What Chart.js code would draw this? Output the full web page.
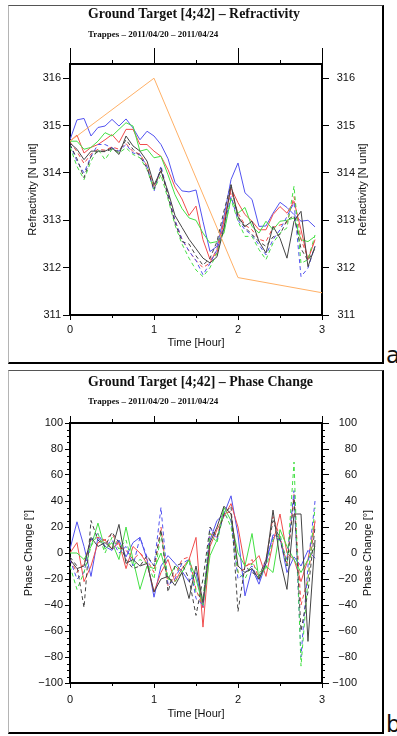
<!DOCTYPE html>
<html>
<head>
<meta charset="utf-8">
<script src="https://cdn.jsdelivr.net/npm/chart.js@4/dist/chart.umd.min.js"></script>
<style>
  body { margin: 0; background: #fff; width: 397px; height: 736px; overflow: hidden; position: relative; }
  .panel { position: absolute; left: 8px; width: 373px; background: #fff;
           border-left: 1px solid #b4b4b4; border-top: 1px solid #555;
           border-right: 2px solid #000; border-bottom: 2px solid #000; }
  .panel canvas { display: block; }
  .tag { position: absolute; left: 386px; font: 23px/1 "DejaVu Sans", sans-serif; color: #111; }
</style>
</head>
<body>
<div class="panel" style="top:5px;height:356px"><canvas id="refr" width="373" height="356"></canvas></div>
<div class="tag" style="top:344px">a</div>
<div class="panel" style="top:370px;height:361px"><canvas id="phase" width="373" height="361"></canvas></div>
<div class="tag" style="top:713px">b</div>
<script>
// time axis, hours (5 min steps)
var hours = [0.000, 0.083, 0.167, 0.250, 0.333, 0.417, 0.500, 0.583, 0.667, 0.750, 0.833, 0.917,
             1.000, 1.083, 1.167, 1.250, 1.333, 1.417, 1.500, 1.583, 1.667, 1.750, 1.833, 1.917,
             2.000, 2.083, 2.167, 2.250, 2.333, 2.417, 2.500, 2.583, 2.667, 2.750, 2.833, 2.917];
var xTicks = [0, 1, 2, 3];

// refractivity [N unit]
var refBlue = [314.70, 315.12, 315.15, 314.78, 314.96, 314.99, 315.13, 314.99, 315.14, 314.95, 314.70, 314.88,
               314.78, 314.60, 314.30, 313.80, 313.62, 313.60, 313.64, 312.98, 312.34, 312.45, 313.08, 313.86,
               314.21, 313.58, 313.44, 312.87, 312.88, 313.15, 313.38, 313.27, 313.12, 312.98, 313.00, 312.86];
var refRed = [314.67, 314.80, 314.42, 314.54, 314.60, 314.70, 314.81, 314.64, 314.92, 314.92, 314.60, 314.60,
              314.46, 314.35, 314.07, 313.70, 313.45, 313.10, 313.30, 312.59, 312.17, 312.31, 312.98, 313.68,
              313.37, 313.12, 312.98, 312.80, 312.80, 313.12, 313.29, 313.15, 313.40, 312.80, 312.17, 312.59];
var refGreen = [314.67, 314.67, 314.50, 314.54, 314.67, 314.85, 314.78, 314.92, 315.06, 314.99, 314.46, 314.50,
                314.32, 314.35, 313.96, 313.54, 313.25, 313.05, 313.00, 312.73, 312.52, 312.55, 312.73, 313.47,
                313.15, 313.27, 312.87, 312.73, 312.98, 312.80, 312.98, 313.00, 313.05, 312.59, 312.55, 312.66];
var refBlack = [314.63, 314.50, 314.28, 314.46, 314.46, 314.46, 314.53, 314.39, 314.78, 314.57, 314.46, 314.25,
                313.75, 314.04, 313.61, 313.10, 312.85, 312.60, 312.40, 312.20, 312.10, 312.23, 312.84, 313.75,
                313.08, 312.87, 312.98, 312.55, 312.31, 312.87, 312.62, 312.20, 312.98, 313.19, 312.02, 312.45];
var refBlueDash = [314.60, 314.25, 314.00, 314.35, 314.60, 314.60, 314.53, 314.46, 314.60, 314.42, 314.39, 314.14,
                   313.61, 314.15, 313.54, 313.00, 312.60, 312.35, 312.15, 311.85, 312.09, 312.38, 312.87, 313.50,
                   313.00, 312.80, 312.69, 312.48, 312.27, 312.59, 312.80, 313.08, 313.37, 311.81, 311.99, 312.45];
var refGreenDash = [314.55, 314.14, 313.86, 314.25, 314.50, 314.28, 314.50, 314.42, 314.53, 314.39, 314.32, 314.07,
                    313.65, 313.96, 313.45, 312.90, 312.50, 312.20, 311.95, 311.81, 312.00, 312.31, 312.80, 313.44,
                    312.98, 312.66, 312.66, 312.38, 312.17, 312.52, 312.73, 312.84, 313.72, 312.09, 312.17, 312.69];
var refRedDash = [314.65, 314.45, 314.20, 314.40, 314.50, 314.48, 314.55, 314.50, 314.62, 314.45, 314.40, 314.15,
                  313.70, 314.05, 313.55, 313.00, 312.60, 312.35, 312.15, 312.00, 312.10, 312.40, 313.00, 313.62,
                  313.15, 312.90, 312.80, 312.60, 312.55, 312.85, 312.90, 312.95, 313.50, 312.60, 312.20, 312.60];
var refBlackDash = [314.60, 314.30, 313.90, 314.35, 314.45, 314.45, 314.50, 314.45, 314.70, 314.50, 314.35, 314.10,
                    313.65, 314.10, 313.50, 312.95, 312.55, 312.50, 312.25, 312.05, 312.20, 312.55, 313.20, 313.75,
                    313.05, 312.85, 312.70, 312.55, 312.45, 312.65, 312.70, 313.00, 313.10, 312.40, 312.15, 312.40];
var refModelHours = [0, 1, 2, 3];
var refModel = [314.67, 316.00, 311.79, 311.47];
var refTicks = [311, 312, 313, 314, 315, 316];

// phase change [deg]
var phBlue = [3, 24, 5, -18, 12, 5, 2, 10, -3, 8, 12, -5,
              -34, -10, -2, -8, -14, -22, -15, -42, 10, 25, 30, 44,
              14, -33, -12, -24, -8, 14, 12, -15, -3, -10, 2, -4];
var phRed = [0, 8, -22, -10, 8, 10, 3, 8, -12, 5, 0, -8,
             -30, -15, -5, -22, -12, -5, 12, -57, 5, 18, 28, 38,
             20, -10, -8, -2, -18, 8, 30, 0, -5, -22, -5, 24];
var phGreen = [0, 0, -5, 5, 23, 3, 8, -5, 20, -5, -28, -10,
               -12, 0, -20, -10, -15, -5, -20, -40, -2, 10, 35, 25,
               0, -10, 15, -20, -10, -15, 18, 5, -5, -15, -5, 5];
var phBlack = [-5, -12, -10, 12, 5, 8, 3, 22, -8, -5, -10, -8,
               -30, -20, -18, -25, -15, -35, -10, -38, 8, 20, 36, 30,
               -10, -15, -12, -20, -8, 33, -5, -28, 30, 30, -68, 10];
var phBlueDash = [-5, -20, -15, 10, 15, 5, 10, 0, 5, -10, 12, -3,
                  -10, 35, -25, -20, -8, -5, -35, -40, 20, 10, 30, 25,
                  -20, -15, -10, -22, -5, 12, 10, -5, 48, -80, -10, 40];
var phGreenDash = [-10, -28, -15, 5, 15, 0, 12, 3, 10, -10, -5, -8,
                   -20, 15, -20, -22, -15, -5, -30, -35, 15, 8, 32, 20,
                   -15, -20, -8, -15, -12, 10, 15, -10, 70, -87, -20, 35];
var phRedDash = [-5, -15, -8, 10, 12, 10, 15, 5, 2, -5, 0, -5,
                 -15, 20, -25, -18, -5, -3, -28, -42, 15, 12, 30, 32,
                 -15, -12, -5, -20, -5, 28, 12, -8, 45, -40, -20, 25];
var phBlackDash = [-3, -10, -42, 25, 10, 5, 16, 8, -5, -12, -10, -2,
                   -10, 18, -30, -10, -8, -20, -48, -20, 20, 12, 30, 36,
                   -45, -10, -15, -18, -5, 25, 10, -10, 42, -60, -30, 20];
var phTicks = [-100, -80, -60, -40, -20, 0, 20, 40, 60, 80, 100];

var BLUE = '#5252f0', RED = '#f04c4c', GREEN = '#44e044', BLACK = '#444444', ORANGE = '#ffb066';
var DASH = [4, 3];
var SANS = '"Liberation Sans", Arial, sans-serif';

var pairs = function (xs, ys) {
    return ys.map(function (v, i) { return {x: xs[i], y: v}; });
};

var line = function (xs, ys, color, dashed) {
    return {
        data: pairs(xs, ys),
        borderColor: color,
        borderWidth: 1,
        borderDash: dashed ? DASH : [],
        pointRadius: 0,
        tension: 0,
        fill: false
    };
};

// titles, axis titles and minor ticks
var deco = {
    id: 'deco',
    afterDraw: function (chart, args, o) {
        var ctx = chart.ctx, area = chart.chartArea;
        ctx.save();
        ctx.fillStyle = '#111';
        ctx.textAlign = 'left';
        ctx.textBaseline = 'alphabetic';
        ctx.font = 'bold 14px "Liberation Serif", serif';
        ctx.fillText(o.title, 79, o.titleY, o.titleW);
        ctx.font = 'bold 9px "Liberation Serif", serif';
        ctx.fillText(o.subtitle, 79, o.subY, 135);

        ctx.font = '11px ' + SANS;
        ctx.textAlign = 'center';
        ctx.textBaseline = 'middle';
        var midY = (area.top + area.bottom) / 2;
        [o.leftX, o.rightX].forEach(function (x) {
            ctx.save();
            ctx.translate(x, midY);
            ctx.rotate(-Math.PI / 2);
            ctx.fillText(o.yTitle, 0, 0);
            ctx.restore();
        });
        ctx.textBaseline = 'alphabetic';
        ctx.fillText(o.xTitle, (area.left + area.right) / 2, o.xTitleY);

        ctx.strokeStyle = '#000';
        ctx.lineWidth = 1;
        ctx.beginPath();
        var sx = chart.scales.x;
        [0.5, 1.5, 2.5].forEach(function (v) {
            var px = Math.round(sx.getPixelForValue(v)) + 0.5;
            ctx.moveTo(px, area.bottom);
            ctx.lineTo(px, area.bottom + 3);
            ctx.moveTo(px, area.top);
            ctx.lineTo(px, area.top - 4);
        });
        if (o.minorY) {
            var sy = chart.scales.y;
            for (var v = sy.min + o.minorY; v < sy.max; v += o.minorY) {
                if (v % 20 === 0) continue;
                var py = Math.round(sy.getPixelForValue(v)) + 0.5;
                ctx.moveTo(area.left - 3, py);
                ctx.lineTo(area.left, py);
                ctx.moveTo(area.right, py);
                ctx.lineTo(area.right + 3, py);
            }
        }
        ctx.stroke();
        ctx.restore();
    }
};

var minus = function (v) { return String(v).replace('-', '\u2212'); };

var makeScales = function (s) {
    var border = {display: true, width: 2, color: '#000'};
    var keep = function (list) {
        return function (scale) {
            scale.ticks = scale.ticks.filter(function (t) { return list.indexOf(t.value) >= 0; });
        };
    };
    return {
        x: {
            type: 'linear', position: 'bottom', min: 0, max: 3, bounds: 'data',
            border: border,
            grid: {drawOnChartArea: false, tickLength: 5, tickColor: '#000', tickWidth: 1},
            ticks: {stepSize: 1, padding: s.xPad, color: '#111', font: {family: SANS, size: 11}, maxRotation: 0},
            afterBuildTicks: keep(xTicks),
            afterFit: function (scale) { scale.height = s.bottomH; }
        },
        x2: {
            type: 'linear', position: 'top', min: 0, max: 3, bounds: 'data',
            border: border,
            grid: {drawOnChartArea: false, tickLength: s.topTick, tickColor: '#000', tickWidth: 1},
            ticks: {stepSize: 1, display: false},
            afterBuildTicks: keep(xTicks),
            afterFit: function (scale) { scale.height = s.topTick; }
        },
        y: {
            type: 'linear', position: 'left', min: s.min, max: s.max, bounds: 'data',
            border: border,
            grid: {drawOnChartArea: false, tickLength: s.yTick, tickColor: '#000', tickWidth: 1},
            ticks: {stepSize: s.step, padding: 2, color: '#111', font: {family: SANS, size: 11}, callback: minus},
            afterBuildTicks: keep(s.ticks),
            afterFit: function (scale) { scale.width = 61; }
        },
        y2: {
            type: 'linear', position: 'right', min: s.min, max: s.max, bounds: 'data',
            border: border,
            grid: {drawOnChartArea: false, tickLength: 7, tickColor: '#000', tickWidth: 1},
            ticks: {stepSize: s.step, padding: 3, crossAlign: 'far', color: '#111', font: {family: SANS, size: 11}, callback: minus},
            afterBuildTicks: keep(s.ticks),
            afterFit: function (scale) { scale.width = s.rightW; }
        }
    };
};

var refrChart = new Chart(document.getElementById('refr'), {
    type: 'line',
    data: {
        datasets: [
            line(refModelHours, refModel, ORANGE, false),
            line(hours, refBlack, BLACK, false),
            line(hours, refBlackDash, BLACK, true),
            line(hours, refGreenDash, GREEN, true),
            line(hours, refBlueDash, BLUE, true),
            line(hours, refRedDash, RED, true),
            line(hours, refGreen, GREEN, false),
            line(hours, refRed, RED, false),
            line(hours, refBlue, BLUE, false)
        ]
    },
    plugins: [deco],
    options: {
        responsive: false,
        animation: false,
        layout: {padding: {top: 42, left: 0, right: 27, bottom: 0}},
        plugins: {
            legend: {display: false},
            tooltip: {enabled: false},
            deco: {
                title: 'Ground Target [4;42] \u2013 Refractivity', titleY: 12, titleW: 212,
                subtitle: 'Trappes \u2013 2011/04/20 \u2013 2011/04/24', subY: 30.5,
                yTitle: 'Refractivity [N unit]', leftX: 24, rightX: 354,
                xTitle: 'Time [Hour]', xTitleY: 340
            }
        },
        scales: makeScales({min: 311, max: 316.3, step: 1, ticks: refTicks, topTick: 16, yTick: 7,
                            bottomH: 47, xPad: 3, rightW: 33})
    }
});

var phaseChart = new Chart(document.getElementById('phase'), {
    type: 'line',
    data: {
        datasets: [
            line(hours, phBlack, BLACK, false),
            line(hours, phBlackDash, BLACK, true),
            line(hours, phGreenDash, GREEN, true),
            line(hours, phBlueDash, BLUE, true),
            line(hours, phRedDash, RED, true),
            line(hours, phGreen, GREEN, false),
            line(hours, phRed, RED, false),
            line(hours, phBlue, BLUE, false)
        ]
    },
    plugins: [deco],
    options: {
        responsive: false,
        animation: false,
        layout: {padding: {top: 45, left: 0, right: 25, bottom: 0}},
        plugins: {
            legend: {display: false},
            tooltip: {enabled: false},
            deco: {
                title: 'Ground Target [4;42] \u2013 Phase Change', titleY: 15, titleW: 225,
                subtitle: 'Trappes \u2013 2011/04/20 \u2013 2011/04/24', subY: 33,
                yTitle: 'Phase Change [\u00b0]', leftX: 20, rightX: 359,
                xTitle: 'Time [Hour]', xTitleY: 346, minorY: 5
            }
        },
        scales: makeScales({min: -100, max: 100, step: 20, ticks: phTicks, topTick: 7, yTick: 5,
                            bottomH: 49, xPad: 5, rightW: 35})
    }
});
</script>
</body>
</html>
